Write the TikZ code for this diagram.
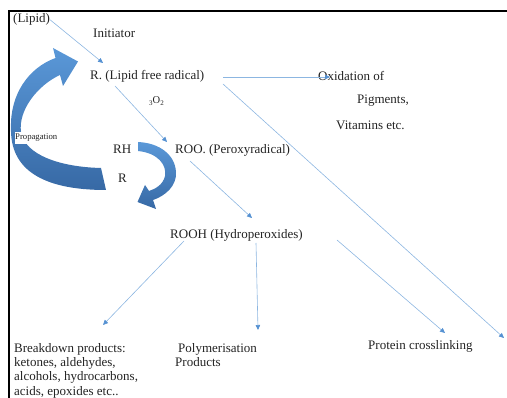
\documentclass[tikz,border=0pt]{standalone}
\usepackage{fontspec}
\setmainfont{Liberation Serif}
\usetikzlibrary{arrows.meta}
\definecolor{conn}{RGB}{140,182,225}
\definecolor{tipc}{RGB}{85,145,210}
\definecolor{arrtop}{RGB}{90,152,216}
\definecolor{arrbot}{RGB}{55,105,165}
\definecolor{txt}{RGB}{35,35,35}
\begin{document}
\begin{tikzpicture}[x=1pt,y=-1pt,
  font=\fontsize{13}{14.3}\selectfont,
  lbl/.style={inner sep=0pt, anchor=base west, text=txt},
  blk/.style={inner sep=0pt, anchor=north west, text=txt, align=left},
  link/.style={draw=conn, line width=0.6pt, -{Triangle[length=5pt,width=4.5pt,color=tipc]}},
  bigarrow/.style={top color=arrtop, bottom color=arrbot, draw=none}]
\useasboundingbox (0,0) rectangle (507,398);

% curved blue arrows
\path[bigarrow] (101,168) .. controls (60,167) and (25,155) .. (21,132)
  .. controls (18,110) and (38,85) .. (60,75)
  -- (63,86) -- (78,61.5) -- (53,48) -- (55.5,58)
  .. controls (28,68) and (10,95) .. (11,128)
  .. controls (10,168) and (40,190) .. (106,190) -- cycle;
\path[bigarrow] (138,142) -- (138,151)
  .. controls (158,153) and (167,165) .. (165,176)
  .. controls (163,185) and (155,189) .. (149,191)
  -- (145,185) -- (137.5,202) -- (156,209) -- (153,200)
  .. controls (165,196) and (177,186) .. (176,172)
  .. controls (175,155) and (160,143) .. (138,142) -- cycle;

% frame
\draw[line width=2pt, black] (507,11) -- (9,11) -- (9,398);

% texts
\node[lbl] (lipid) at (13,23) {(Lipid)};
\node[lbl] (init) at (93,38) {Initiator};
\node[lbl] (rad) at (90,80) {R. (Lipid free radical)};
\node[lbl, font=\fontsize{10.5}{11}\selectfont] (oxy) at (149,104)
  {\raisebox{-1.5pt}{\fontsize{7}{7}\selectfont 3}O\raisebox{-1.5pt}{\fontsize{7}{7}\selectfont 2}};
\node[lbl] (roo) at (175,154) {ROO. (Peroxyradical)};
\node[lbl] (rooh) at (170,239) {ROOH (Hydroperoxides)};
\node[lbl] (oxid) at (318,81) {Oxidation of};
\node[lbl] (pig) at (357,104) {Pigments,};
\node[lbl] (vit) at (336,130) {Vitamins etc.};
\node[lbl, fill=white, inner ysep=2pt, font=\fontsize{8.7}{9}\selectfont] (prop) at (15,140) {Propagation};
\node[lbl] (rh) at (113,154) {RH};
\node[lbl] (r) at (118,183) {R};
\node[blk] (brk) at (14,343) {Breakdown products:\\ketones, aldehydes,\\alcohols, hydrocarbons,\\acids, epoxides etc..};
\node[blk] (poly) at (175,343) {\hspace{3pt}Polymerisation\\Products};
\node[lbl] (prot) at (368,350) {Protein crosslinking};

% connector end points
\coordinate (lipE) at (103,63);
\coordinate (radS) at (115,86);
\coordinate (rooN) at (167,142);
\coordinate (rooS) at (190,161);
\coordinate (roohN) at (252,218);
\coordinate (roohSW) at (184,241);
\coordinate (brkN) at (103,325);
\coordinate (roohS) at (256,243);
\coordinate (polyN) at (258,330);
\coordinate (roohE) at (337,240);
\coordinate (protN) at (445,333);
\coordinate (radE) at (223,77);
\coordinate (oxidW) at (330,77);
\coordinate (radSE) at (223,84);
\coordinate (farEnd) at (504,338);

% connectors
\draw[link] (lipid.east) -- (lipE);
\draw[link] (radS) -- (rooN);
\draw[link] (rooS) -- (roohN);
\draw[link] (roohSW) -- (brkN);
\draw[link] (roohS) -- (polyN);
\draw[link] (roohE) -- (protN);
\draw[link] (radE) -- (oxidW);
\draw[link] (radSE) -- (farEnd);
\end{tikzpicture}
\end{document}
